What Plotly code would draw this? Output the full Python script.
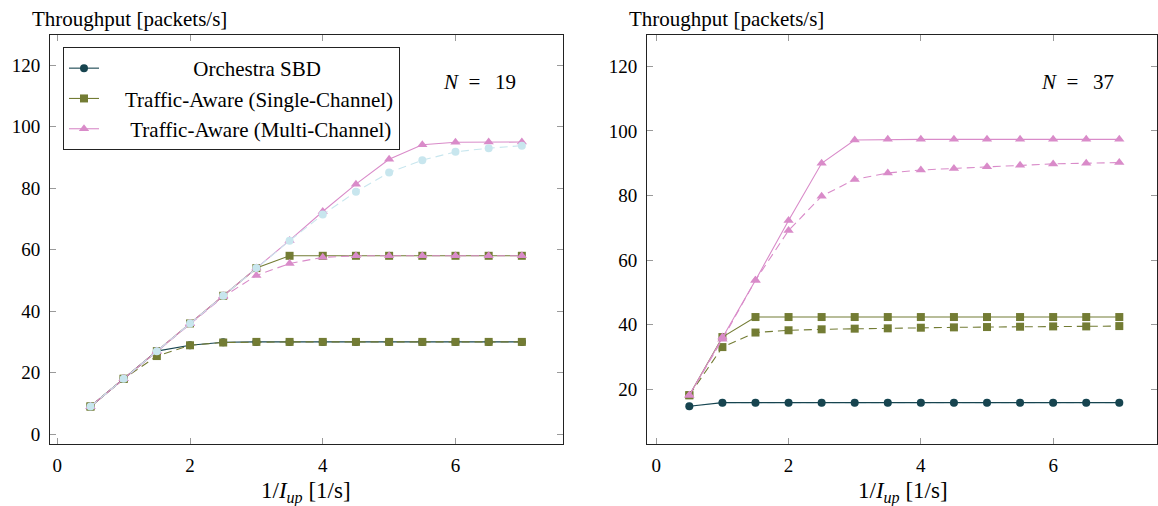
import plotly.graph_objects as go

W, H = 1158, 506

x_vals = [0.5, 1, 1.5, 2, 2.5, 3, 3.5, 4, 4.5, 5, 5.5, 6, 6.5, 7]

# N = 19
orch_19 = [9, 18, 27, 28.9, 29.9, 30, 30, 30, 30, 30, 30, 30, 30, 30]
single_19 = [9, 18, 27, 36, 45, 54, 58, 58, 58, 58, 58, 58, 58, 58]
single_dash_19 = [9, 18, 25.4, 28.9, 29.8, 30, 30, 30, 30, 30, 30, 30, 30, 30]
multi_19 = [9, 18, 27, 36, 45, 54, 63, 72.4, 81.3, 89.4, 94.1, 94.9, 95, 95]
multi_dash_19 = [9, 18, 27, 36, 44.7, 51.6, 55.5, 57.5, 58, 58, 58, 58, 58, 58]
light_19 = [9, 18, 27, 36, 45, 54, 62.9, 71.4, 78.8, 85.1, 89.1, 91.8, 93, 93.8]

# N = 37
orch_37 = [14.8, 15.9, 15.9, 15.9, 15.9, 15.9, 15.9, 15.9, 15.9, 15.9, 15.9, 15.9, 15.9, 15.9]
single_37 = [18.2, 36.2, 42.4, 42.4, 42.4, 42.4, 42.4, 42.4, 42.4, 42.4, 42.4, 42.4, 42.4, 42.4]
single_dash_37 = [18.2, 33.1, 37.6, 38.3, 38.6, 38.8, 38.9, 39.1, 39.2, 39.3, 39.4, 39.5, 39.5, 39.6]
multi_37 = [18.2, 36.2, 53.8, 72.3, 90, 97.2, 97.4, 97.4, 97.4, 97.4, 97.4, 97.4, 97.4, 97.4]
multi_dash_37 = [18.2, 35.5, 53.8, 69.2, 79.8, 85, 87, 87.9, 88.4, 88.9, 89.4, 89.8, 90, 90.2]
light_37 = orch_37

y_ticks = [0, 20, 40, 60, 80, 100, 120]
x_ticks = [0, 2, 4, 6]

legend_names = ["Orchestra SBD", "Traffic-Aware (Single-Channel)",
                "Traffic-Aware (Multi-Channel)"]

C_ORCH = "#17444f"
C_OLIVE = "#737c34"
C_PINK = "#d98bc9"
C_LIGHT = "#c8e6ee"
FONT = "Liberation Serif"
DASH = "8px,5px"
NB = "\u00a0"

fig = go.Figure()


def add(xa, ya, y, color, symbol, dash, name=None, show=False, size=8):
    fig.add_trace(go.Scatter(
        x=x_vals, y=y, xaxis=xa, yaxis=ya, mode="lines+markers",
        name=name, showlegend=show,
        line=dict(color=color, width=1.1, dash=dash),
        marker=dict(color=color, symbol=symbol, size=size,
                    line=dict(width=0))))


# left panel
add("x", "y", orch_19, C_ORCH, "circle", "solid",
    NB * 17 + legend_names[0], True)
add("x", "y", single_dash_19, C_OLIVE, "square", DASH)
add("x", "y", single_19, C_OLIVE, "square", "solid",
    NB * 4 + legend_names[1], True)
add("x", "y", multi_19, C_PINK, "triangle-up", "solid",
    NB * 5 + legend_names[2], True, 9)
add("x", "y", multi_dash_19, C_PINK, "triangle-up", DASH, size=9)
add("x", "y", light_19, C_LIGHT, "circle", DASH)

# right panel
add("x2", "y2", light_37, C_LIGHT, "circle", DASH)
add("x2", "y2", single_dash_37, C_OLIVE, "square", DASH)
add("x2", "y2", single_37, C_OLIVE, "square", "solid")
add("x2", "y2", multi_dash_37, C_PINK, "triangle-up", DASH, size=9)
add("x2", "y2", multi_37, C_PINK, "triangle-up", "solid", size=9)
add("x2", "y2", orch_37, C_ORCH, "circle", "solid")


def px_x(p):
    return p / W


def px_y(p):
    return 1 - p / H


axis_common = dict(
    showline=True, linecolor="#222", linewidth=1, mirror="ticks",
    ticks="inside", ticklen=6, tickcolor="#9a9a9a", tickwidth=1,
    showgrid=False, zeroline=False,
    tickfont=dict(family=FONT, size=19, color="black"),
)

fig.update_layout(
    width=W, height=H, margin=dict(l=0, r=0, t=0, b=0),
    paper_bgcolor="white", plot_bgcolor="white",
    font=dict(family=FONT, color="black"),
    xaxis=dict(domain=[px_x(50), px_x(563)], range=[-0.11, 7.62],
               tickvals=x_ticks, anchor="y", ticklabelstandoff=4, **axis_common),
    yaxis=dict(domain=[px_y(444), px_y(35)], range=[-3.2, 129.8],
               tickvals=y_ticks, anchor="x", ticklabelstandoff=5, **axis_common),
    xaxis2=dict(domain=[px_x(647), px_x(1157)], range=[-0.14, 7.57],
                tickvals=x_ticks, anchor="y2", ticklabelstandoff=4, **axis_common),
    yaxis2=dict(domain=[px_y(444), px_y(35)], range=[3.1, 129.7],
                tickvals=y_ticks, anchor="x2", ticklabelstandoff=5, **axis_common),
    legend=dict(x=px_x(63), y=px_y(47), xanchor="left", yanchor="top",
                bgcolor="white", bordercolor="#222", borderwidth=1,
                font=dict(family=FONT, size=21, color="black"),
                tracegroupgap=0),
    showlegend=True,
)

ann_font = dict(family=FONT, size=21, color="black")
xlabel = "1/<i>I</i><sub><i>up</i></sub> [1/s]"
annotations = [
    dict(text="Throughput [packets/s]", x=px_x(30), y=px_y(19),
         xanchor="left", yanchor="middle"),
    dict(text="Throughput [packets/s]", x=px_x(627), y=px_y(19),
         xanchor="left", yanchor="middle"),
    dict(text=xlabel, x=px_x(306), y=px_y(492), xanchor="center", yanchor="middle",
         font=dict(family=FONT, size=23, color="black")),
    dict(text=xlabel, x=px_x(903), y=px_y(492), xanchor="center", yanchor="middle",
         font=dict(family=FONT, size=23, color="black")),
    dict(text="<i>N</i>\u2002=\u2002\u200919", x=px_x(480), y=px_y(82),
         xanchor="center", yanchor="middle"),
    dict(text="<i>N</i>\u2002=\u2002\u200937", x=px_x(1077), y=px_y(82),
         xanchor="center", yanchor="middle"),
]
for a in annotations:
    a.setdefault("font", ann_font)
    a.update(xref="paper", yref="paper", showarrow=False)
fig.update_layout(annotations=annotations)

fig.write_html("out.html")
